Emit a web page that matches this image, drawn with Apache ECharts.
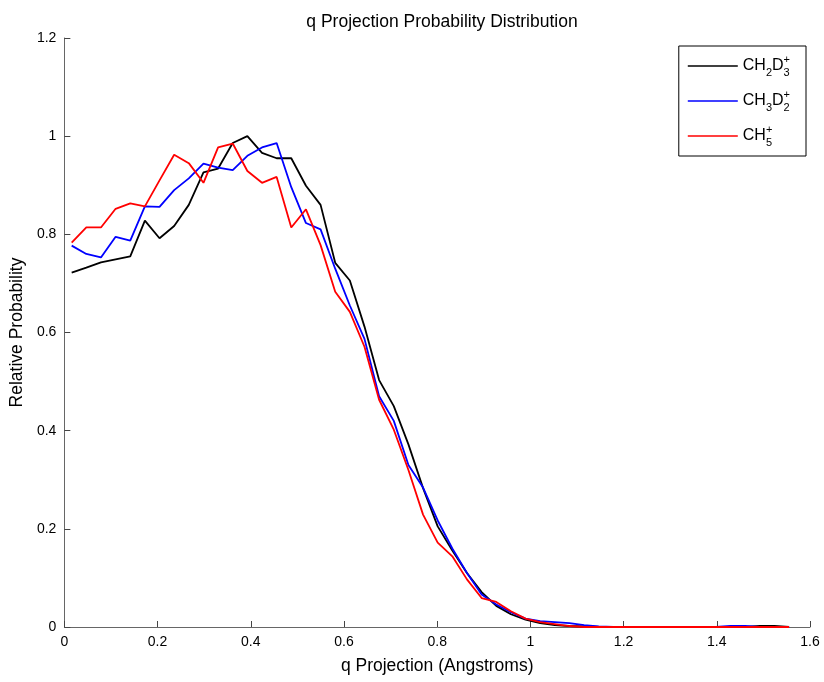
<!DOCTYPE html>
<html>
<head>
<meta charset="utf-8">
<script src="https://cdn.jsdelivr.net/npm/echarts@6/dist/echarts.min.js"></script>
<style>html,body{margin:0;padding:0;background:#fff}#c{width:824px;height:682px}</style>
</head>
<body>
<div id="c"></div>
<script>
const qValues = [0.0157,0.0471,0.0785,0.1100,0.1414,0.1728,0.2042,0.2356,0.2670,0.2985,
  0.3299,0.3613,0.3927,0.4241,0.4555,0.4869,0.5184,0.5498,0.5812,0.6126,
  0.6440,0.6754,0.7069,0.7383,0.7697,0.8011,0.8325,0.8639,0.8954,0.9268,
  0.9582,0.9896,1.0210,1.0524,1.0838,1.1153,1.1467,1.1781,1.2095,1.2409,
  1.2723,1.3038,1.3352,1.3666,1.3980,1.4294,1.4608,1.4923,1.5237,1.5551];
const ch2d3 = [0.722,0.732,0.743,0.749,0.755,0.828,0.792,0.817,0.860,0.926,
  0.934,0.986,1.000,0.966,0.955,0.955,0.899,0.860,0.742,0.706,
  0.612,0.503,0.450,0.372,0.283,0.205,0.156,0.110,0.071,0.043,
  0.026,0.015,0.008,0.004,0.002,0.001,0,0,0,0,
  0,0,0,0,0,0,0,0.002,0.002,0];
const ch3d2 = [0.777,0.760,0.753,0.795,0.787,0.857,0.856,0.890,0.914,0.944,
  0.936,0.931,0.960,0.977,0.986,0.896,0.823,0.810,0.730,0.655,
  0.587,0.470,0.420,0.330,0.284,0.217,0.160,0.110,0.066,0.046,
  0.030,0.017,0.012,0.010,0.008,0.004,0.001,0,0,0,
  0,0,0,0,0,0.002,0.002,0,0,0];
const ch5 = [0.783,0.814,0.814,0.852,0.863,0.857,0.910,0.962,0.945,0.905,
  0.977,0.985,0.929,0.905,0.917,0.814,0.851,0.778,0.683,0.642,
  0.571,0.463,0.402,0.320,0.229,0.172,0.144,0.097,0.059,0.051,
  0.032,0.017,0.010,0.006,0.002,0,0,0,0,0,
  0,0,0,0,0,0,0,0,0,0];
const seriesNames = ['CH2D3+','CH3D2+','CH5+'];
const seriesColors = ['#000000','#0000ff','#ff0000'];
const seriesData = [ch2d3, ch3d2, ch5];
const legendLabels = {
  'CH2D3+': '{n|CH}{sub|2}{n|D}{subz|3}{sup|+}',
  'CH3D2+': '{n|CH}{sub|3}{n|D}{subz|2}{sup|+}',
  'CH5+': '{n|CH}{subz|5}{sup|+}'
};
const FONT = '"Liberation Sans", Arial, Helvetica, sans-serif';

const chart = echarts.init(document.getElementById('c'), null, {renderer: 'canvas'});
chart.setOption({
  backgroundColor: '#ffffff',
  animation: false,
  title: {
    text: 'q Projection Probability Distribution',
    left: 437, top: 8, textAlign: 'center',
    textStyle: {fontFamily: FONT, fontSize: 17.5, fontWeight: 'normal', color: '#000'}
  },
  grid: {left: 63, right: 14, top: 38, bottom: 55, containLabel: false},
  legend: {
    orient: 'vertical', right: 18, top: 46,
    data: seriesNames,
    icon: 'rect',
    itemWidth: 50, itemHeight: 1.6, itemGap: 11,
    padding: [8, 16, 8, 9],
    borderColor: '#000', borderWidth: 1, backgroundColor: '#fff',
    formatter: function (name) { return legendLabels[name]; },
    textStyle: {
      fontFamily: FONT, color: '#000',
      rich: {
        n: {fontSize: 16, fontFamily: FONT, color: '#000', lineHeight: 24, verticalAlign: 'middle'},
        sub: {fontSize: 11, fontFamily: FONT, color: '#000', lineHeight: 13, verticalAlign: 'bottom'},
        subz: {fontSize: 11, fontFamily: FONT, color: '#000', lineHeight: 13, verticalAlign: 'bottom', width: 0},
        sup: {fontSize: 11, fontFamily: FONT, color: '#000', lineHeight: 13, verticalAlign: 'top'}
      }
    }
  },
  xAxis: {
    type: 'value', min: 0, max: 1.6, interval: 0.2,
    name: 'q Projection (Angstroms)', nameLocation: 'middle', nameGap: 30,
    nameTextStyle: {fontFamily: FONT, fontSize: 17.5, color: '#000'},
    axisLine: {show: true, lineStyle: {color: '#666', width: 1}},
    axisTick: {show: true, inside: true, length: 6, lineStyle: {color: '#444'}},
    axisLabel: {fontFamily: FONT, fontSize: 14, color: '#000', margin: 8,
      formatter: function (v) { return String(Math.round(v * 10) / 10); }},
    splitLine: {show: false}
  },
  yAxis: {
    type: 'value', min: 0, max: 1.2, interval: 0.2,
    name: 'Relative Probability', nameLocation: 'middle', nameGap: 36, nameRotate: 90,
    nameTextStyle: {fontFamily: FONT, fontSize: 17.5, color: '#000'},
    axisLine: {show: true, lineStyle: {color: '#666', width: 1}},
    axisTick: {show: true, inside: true, length: 6, lineStyle: {color: '#444'}},
    axisLabel: {fontFamily: FONT, fontSize: 14, color: '#000', margin: 8,
      formatter: function (v) { return String(Math.round(v * 10) / 10); }},
    splitLine: {show: false}
  },
  series: seriesNames.map(function (nm, k) {
    return {
      name: nm, type: 'line', symbol: 'none', showSymbol: false,
      lineStyle: {color: seriesColors[k], width: 1.8},
      itemStyle: {color: seriesColors[k]},
      data: qValues.map(function (q, i) { return [q, seriesData[k][i]]; }),
      z: 2 + k
    };
  })
});
</script>
</body>
</html>
